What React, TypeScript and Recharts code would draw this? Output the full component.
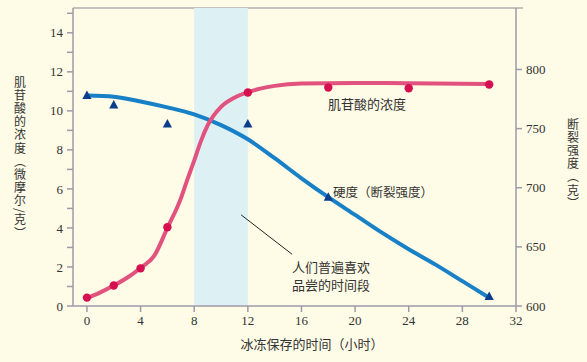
import React from 'react';
import {
  ComposedChart, Line, Scatter, XAxis, YAxis, ReferenceArea, ReferenceLine, Customized,
} from 'recharts';

// Data
const impHours = [0, 2, 4, 6, 12, 18, 24, 30];
const impValues = [0.43, 1.05, 1.93, 4.04, 10.94, 11.2, 11.16, 11.35];

const hardHours = [0, 2, 6, 12, 18, 30];
const hardValues = [778, 770, 754, 754, 692, 608];

const impCurveHours = [0, 1, 2, 3, 4, 5, 6, 7, 7.5, 8, 8.5, 9, 10, 11, 12, 13, 14, 16, 20, 24, 30];
const impCurveValues = [0.4, 0.7, 1.05, 1.45, 1.95, 2.55, 4.0, 5.5, 6.5, 7.45, 8.45, 9.25, 10.2, 10.67, 10.95, 11.15, 11.28, 11.4, 11.43, 11.42, 11.38];

const hardCurveHours = [0, 2, 4, 6, 8, 10, 12, 14, 16, 18, 20, 22, 24, 26, 28, 30];
const hardCurveValues = [778, 777, 773, 768, 762, 753, 741, 725, 708, 692, 677, 662, 648, 635, 621, 607];

const xTicks = [0, 4, 8, 12, 16, 20, 24, 28, 32];
const leftTicks = [0, 1, 2, 3, 4, 5, 6, 7, 8, 9, 10, 11, 12, 13, 14, 15];
const rightTicks = [600, 650, 700, 750, 800];

const impPts = impHours.map((h, i) => ({ h, v: impValues[i] }));
const hardPts = hardHours.map((h, i) => ({ h, v: hardValues[i] }));
const impCurve = impCurveHours.map((h, i) => ({ h, v: impCurveValues[i] }));
const hardCurve = hardCurveHours.map((h, i) => ({ h, v: hardCurveValues[i] }));

const BG = '#FEFBE6';
const AXIS = '#9E9AAA';
const TXT = '#333333';
const CJK = '"Noto Sans CJK SC", "Noto Sans", sans-serif';
const NUM = '"Liberation Serif", "DejaVu Serif", serif';

const Dot = (props: any) => {
  const { cx, cy } = props;
  if (cx == null || cy == null) return null;
  return <circle cx={cx} cy={cy} r={4.2} fill="#D60F50" />;
};

const Tri = (props: any) => {
  const { cx, cy } = props;
  if (cx == null || cy == null) return null;
  const w = 4.6;
  return (
    <polygon
      points={`${cx},${cy - 5} ${cx + w},${cy + 3.5} ${cx - w},${cy + 3.5}`}
      fill="#0C3C8C"
    />
  );
};

const Annotations = () => (
  <g fontFamily={CJK} fill={TXT}>
    <line x1={73} y1={8} x2={523} y2={8} stroke="#AFAFAF" strokeWidth={1.5} />
    <text x={328} y={103} fontSize={13} dominantBaseline="central">肌苷酸的浓度</text>
    <text x={333} y={191} fontSize={12.5} dominantBaseline="central">硬度（断裂强度）</text>
    <text x={292} y={266} fontSize={13} dominantBaseline="central">人们普遍喜欢</text>
    <text x={292} y={284} fontSize={13} dominantBaseline="central">品尝的时间段</text>
    <text x={312} y={343} fontSize={13} textAnchor="middle" dominantBaseline="central">冰冻保存的时间（小时）</text>
    <text x={20} y={76} fontSize={12} letterSpacing={1.2} style={{ writingMode: 'vertical-rl' } as any}>肌苷酸的浓度（微摩尔/克）</text>
    <text x={573} y={118} fontSize={12} letterSpacing={1.2} style={{ writingMode: 'vertical-rl' } as any}>断裂强度（克）</text>
  </g>
);

export default function App() {
  return (
    <div style={{ position: 'absolute', left: 0, top: 0, width: 587, height: 362, background: BG }}>
      <ComposedChart
        width={587}
        height={362}
        margin={{ top: 8, right: 0, bottom: 26, left: 0 }}
      >
        <XAxis
          dataKey="h"
          type="number"
          domain={[-1.04, 32]}
          ticks={xTicks}
          allowDataOverflow
          height={30}
          stroke={AXIS}
          strokeWidth={1.5}
          tickSize={6}
          tickMargin={4}
          tick={{ fill: TXT, fontSize: 13, fontFamily: NUM }}
          tickLine={{ stroke: AXIS, strokeWidth: 1.5 }}
        />
        <YAxis
          yAxisId="left"
          orientation="left"
          type="number"
          domain={[0, 15.27]}
          ticks={leftTicks}
          allowDataOverflow
          width={73}
          stroke={AXIS}
          strokeWidth={1.5}
          tickSize={6}
          tickMargin={4}
          interval={0}
          tickFormatter={(v: number) => (v % 2 === 0 ? String(v) : '')}
          tick={{ fill: TXT, fontSize: 13, fontFamily: NUM }}
          tickLine={{ stroke: AXIS, strokeWidth: 1.5 }}
        />
        <YAxis
          yAxisId="right"
          orientation="right"
          type="number"
          domain={[600, 852]}
          ticks={rightTicks}
          allowDataOverflow
          width={71}
          stroke={AXIS}
          strokeWidth={1.5}
          tickSize={6}
          tickMargin={4}
          interval={0}
          tick={{ fill: TXT, fontSize: 13, fontFamily: NUM }}
          tickLine={{ stroke: AXIS, strokeWidth: 1.5 }}
        />
        <ReferenceArea
          yAxisId="left"
          x1={8}
          x2={12}
          y1={0}
          y2={15.27}
          fill="#DDF0F4"
          fillOpacity={1}
          stroke="none"
          ifOverflow="hidden"
        />
        <ReferenceLine
          yAxisId="left"
          segment={[{ x: 11.5, y: 4.67 }, { x: 15.3, y: 2.65 }]}
          stroke="#222"
          strokeWidth={1}
        />
        <Line
          yAxisId="right"
          data={hardCurve}
          dataKey="v"
          type="monotone"
          stroke="#1880C6"
          strokeWidth={4}
          dot={false}
          activeDot={false}
          isAnimationActive={false}
        />
        <Line
          yAxisId="left"
          data={impCurve}
          dataKey="v"
          type="monotone"
          stroke="#E2527E"
          strokeWidth={4}
          dot={false}
          activeDot={false}
          isAnimationActive={false}
        />
        <Scatter yAxisId="right" data={hardPts} dataKey="v" shape={Tri} isAnimationActive={false} />
        <Scatter yAxisId="left" data={impPts} dataKey="v" shape={Dot} isAnimationActive={false} />
        <Customized component={Annotations} />
      </ComposedChart>
    </div>
  );
}
